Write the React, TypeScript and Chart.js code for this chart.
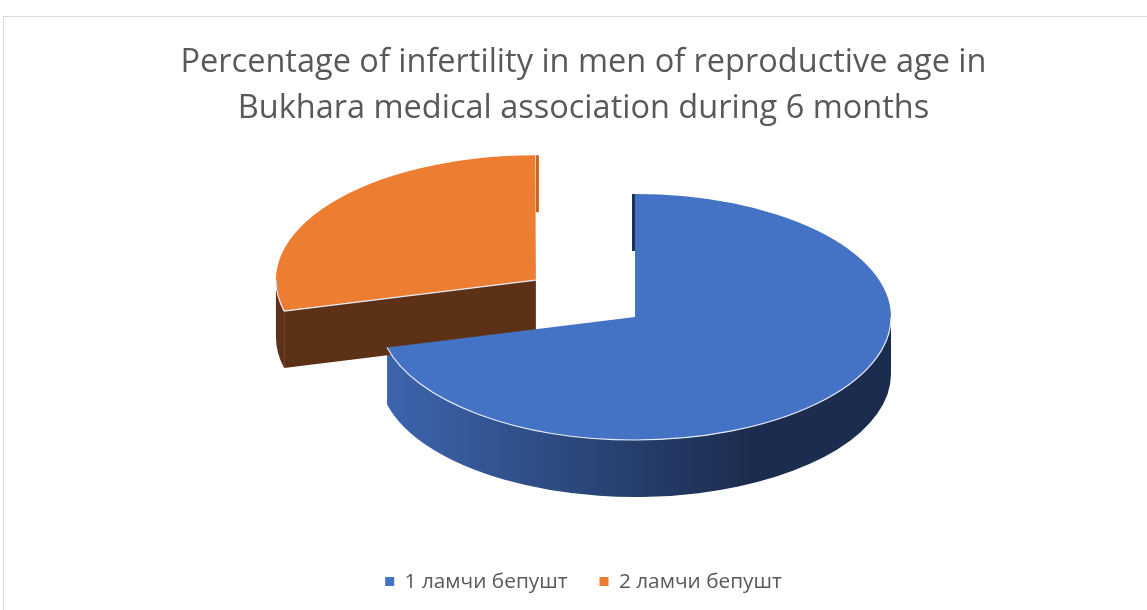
import React, { useEffect, useRef } from 'react';
import { Chart, registerables } from 'chart.js';

Chart.register(...registerables);

const categories = ['1 ламчи бепушт', '2 ламчи бепушт'];
const values = [71, 29];
const titleLines = [
  'Percentage of infertility in men of reproductive age in',
  'Bukhara medical association during 6 months',
];
const topColors = ['#4472C4', '#ED7D31'];
const explode = [0, 0.49];

const FONT = "'Open Sans', 'Noto Sans', sans-serif";
const TEXT = '#595959';

function frontRanges(s: number, e: number): number[][] {
  const out: number[][] = [];
  for (let k = -2; k <= 2; k++) {
    const base = 2 * Math.PI * k;
    const lo = Math.max(s, base);
    const hi = Math.min(e, base + Math.PI);
    if (hi > lo + 1e-6) out.push([lo - base, hi - base]);
  }
  return out;
}

const pie3d = {
  id: 'pie3d',
  beforeDatasetsDraw(chart: any, _args: any, o: any) {
    const arcs = chart.getDatasetMeta(0).data;
    if (!arcs || !arcs.length) return;
    const ctx = chart.ctx as CanvasRenderingContext2D;
    const ca = chart.chartArea;
    const R = arcs[0].outerRadius;
    const px = arcs[0].x;
    const py = arcs[0].y;
    const cx = (ca.left + ca.right) / 2 + o.dx;
    const cy = o.cy;
    const sx = o.rx / R;
    const sy = o.ry / R;
    const geo = arcs.map((el: any, i: number) => {
      const off = (el.options.offset || 0) / 4;
      const grow = off * (1 - Math.sin(Math.min(Math.PI, el.circumference)));
      const mid = (el.startAngle + el.endAngle) / 2;
      return {
        ax: cx + Math.cos(mid) * off * sx,
        ay: cy + Math.sin(mid) * off * sy,
        rx: (R + grow) * sx,
        ry: (R + grow) * sy,
        s: el.startAngle,
        e: el.endAngle,
        i,
      };
    });
    chart.$pie3d = geo;
    const D = o.depth;

    for (const g of geo) {
      const wall = o.wallColors[g.i];
      let fill: any = wall;
      if (Array.isArray(wall)) {
        const gr = ctx.createLinearGradient(g.ax - g.rx, 0, g.ax + g.rx * 0.45, 0);
        gr.addColorStop(0, wall[0]);
        gr.addColorStop(1, wall[1]);
        fill = gr;
      }
      ctx.save();
      const sliver = (a: number, side: number) => {
        const rxp = g.ax + g.rx * Math.cos(a);
        const ryp = g.ay + g.ry * Math.sin(a);
        ctx.fillStyle = o.sliverColors[g.i];
        ctx.beginPath();
        ctx.moveTo(rxp, ryp);
        ctx.lineTo(g.ax, g.ay);
        ctx.lineTo(g.ax, g.ay + D);
        ctx.lineTo(rxp, ryp + D);
        ctx.lineTo(rxp + side * 3, ryp + D);
        ctx.lineTo(g.ax + side * 3, g.ay + D);
        ctx.lineTo(g.ax + side * 3, g.ay);
        ctx.lineTo(rxp + side * 3, ryp);
        ctx.closePath();
        ctx.fill();
      };
      if (Math.abs(Math.cos(g.s)) <= 0.02) sliver(g.s, Math.sign(Math.cos(g.s - Math.PI / 2)) || -1);
      if (Math.abs(Math.cos(g.e)) <= 0.02) sliver(g.e, Math.sign(Math.cos(g.e + Math.PI / 2)) || 1);

      ctx.fillStyle = fill;
      const face = (a: number) => {
        const x2 = g.ax + g.rx * Math.cos(a);
        const y2 = g.ay + g.ry * Math.sin(a);
        ctx.beginPath();
        ctx.moveTo(g.ax, g.ay);
        ctx.lineTo(x2, y2);
        ctx.lineTo(x2, y2 + D);
        ctx.lineTo(g.ax, g.ay + D);
        ctx.closePath();
        ctx.fill();
      };
      if (Math.cos(g.s) < -0.02) face(g.s);
      if (Math.cos(g.e) > 0.02) face(g.e);
      for (const [lo, hi] of frontRanges(g.s, g.e)) {
        ctx.beginPath();
        ctx.ellipse(g.ax, g.ay, g.rx, g.ry, 0, lo, hi, false);
        ctx.ellipse(g.ax, g.ay + D, g.rx, g.ry, 0, hi, lo, true);
        ctx.closePath();
        ctx.fill();
      }
      ctx.restore();
    }
    ctx.save();
    ctx.translate(cx, cy);
    ctx.scale(sx, sy);
    ctx.translate(-px, -py);
  },
  afterDatasetsDraw(chart: any, _args: any, o: any) {
    const geo = chart.$pie3d;
    if (!geo) return;
    const ctx = chart.ctx as CanvasRenderingContext2D;
    ctx.restore();
    ctx.save();
    ctx.strokeStyle = o.edgeColor;
    ctx.lineWidth = 1.2;
    for (const g of geo) {
      for (const [lo, hi] of frontRanges(g.s, g.e)) {
        ctx.beginPath();
        ctx.ellipse(g.ax, g.ay, g.rx, g.ry, 0, lo, hi, false);
        ctx.stroke();
      }
      if (Math.cos(g.s) < -0.02) {
        ctx.beginPath();
        ctx.moveTo(g.ax, g.ay);
        ctx.lineTo(g.ax + g.rx * Math.cos(g.s), g.ay + g.ry * Math.sin(g.s));
        ctx.stroke();
      }
    }
    ctx.restore();
  },
};

export default function App() {
  const ref = useRef<HTMLCanvasElement>(null);
  useEffect(() => {
    const chart = new Chart(ref.current!, {
      type: 'pie',
      data: {
        labels: categories,
        datasets: [
          {
            data: values,
            backgroundColor: topColors,
            borderWidth: 0,
            hoverOffset: 0,
            clip: false,
            offset: (c: any) => {
              const a = c.chart.chartArea;
              if (!a) return 0;
              const m = Math.min(a.right - a.left, a.bottom - a.top);
              const kmax = Math.max(...explode);
              const maxO = (2 * kmax * m) / (1 + 2 * kmax);
              return 2 * (explode[c.dataIndex] || 0) * (m - maxO);
            },
          } as any,
        ],
      },
      options: {
        responsive: false,
        maintainAspectRatio: false,
        animation: false,
        events: [],
        layout: { padding: { left: 0, right: 0, top: 0, bottom: 8 } },
        plugins: {
          tooltip: { enabled: false },
          title: {
            display: true,
            text: titleLines,
            color: TEXT,
            font: { family: FONT, size: 32.5, weight: 'normal', lineHeight: 1.4 },
            padding: { top: 23, bottom: 10 },
          },
          legend: {
            position: 'bottom',
            labels: {
              usePointStyle: true,
              pointStyle: 'rect',
              boxHeight: 9,
              boxWidth: 9,
              padding: 32,
              color: TEXT,
              font: { family: FONT, size: 20.8 },
            },
          },
          pie3d: {
            dx: 51.5,
            cy: 300,
            rx: 256,
            ry: 123,
            depth: 57,
            wallColors: [['#3D66B0', '#1C2C4E'], '#5C3116'],
            sliverColors: ['#1E3258', '#C2652A'],
            edgeColor: '#E6ECF6',
          },
        } as any,
      },
      plugins: [pie3d],
    });
    return () => chart.destroy();
  }, []);
  return (
    <div
      style={{
        position: 'absolute',
        left: 0,
        top: 0,
        width: 1147,
        height: 610,
        overflow: 'hidden',
        background: '#fff',
      }}
    >
      <div
        style={{
          position: 'absolute',
          left: 3,
          top: 16,
          width: 1170,
          height: 640,
          border: '1px solid #D9D9D9',
        }}
      >
        <canvas ref={ref} width={1159} height={593} style={{ display: 'block', width: 1159, height: 593 }} />
      </div>
    </div>
  );
}
